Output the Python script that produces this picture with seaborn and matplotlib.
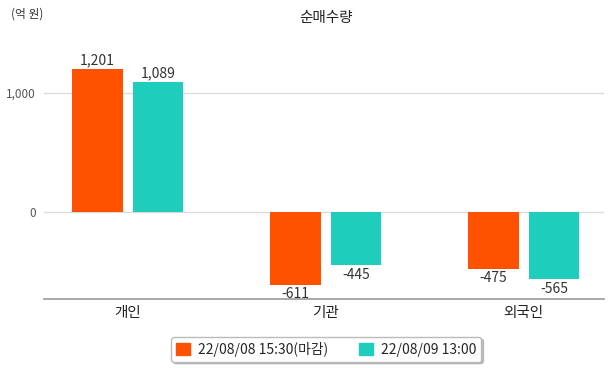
import matplotlib
matplotlib.use("Agg")
import matplotlib.pyplot as plt
import pandas as pd
import seaborn as sns

# values (억 원)
categories = ["개인", "기관", "외국인"]
series_names = ["22/08/08 15:30(마감)", "22/08/09 13:00"]
close_values = [1201, -611, -475]
midday_values = [1089, -445, -565]
colors = ["#FF5200", "#1FCDBD"]

sns.set_theme(style="white")
plt.rcParams["font.family"] = ["Noto Sans CJK KR", "DejaVu Sans"]

df = pd.DataFrame({
    "category": categories * 2,
    "series": [series_names[0]] * 3 + [series_names[1]] * 3,
    "value": close_values + midday_values,
})

fig = plt.figure(figsize=(6.11, 3.68), dpi=100)
ax = fig.add_axes([0.072, 0.1875, 0.9165, 0.7215])

sns.barplot(data=df, x="category", y="value", hue="series", order=categories,
            hue_order=series_names, palette=colors, width=0.612, gap=0.17,
            saturation=1, linewidth=0, ax=ax, legend=False)

ax.set_xlim(-0.423, 2.405)
ax.set_ylim(-731, 1500)
ax.set_yticks([0, 1000])
ax.set_yticklabels(["0", "1,000"], fontsize=8.5, color="#555555")
ax.yaxis.grid(True, color="#D9D9D9", linewidth=0.9)
ax.set_axisbelow(True)
ax.tick_params(axis="y", length=0, pad=6)
ax.tick_params(axis="x", length=0, labelsize=10.5, colors="#222222", pad=5)
ax.set_xlabel("")
ax.set_ylabel("")
for side in ["left", "right", "top"]:
    ax.spines[side].set_visible(False)
ax.spines["bottom"].set_color("#999999")
ax.spines["bottom"].set_linewidth(1.2)

for container in ax.containers:
    for bar in container:
        v = bar.get_height()
        xc = bar.get_x() + bar.get_width() / 2
        if v >= 0:
            ax.annotate(f"{v:,.0f}", (xc, v), xytext=(0, 1.5), textcoords="offset points",
                        ha="center", va="bottom", fontsize=10, color="#333333")
        else:
            ax.annotate(f"{v:,.0f}", (xc, v), xytext=(0, -2), textcoords="offset points",
                        ha="center", va="top", fontsize=10, color="#333333")

fig.text(0.533, 0.95, "순매수량", ha="center", va="center", fontsize=10.5, color="#222222")
fig.text(0.018, 0.963, "(억 원)", ha="left", va="center", fontsize=8.5, color="#333333")

handles = [plt.Rectangle((0, 0), 1, 1, color=c) for c in colors]
leg = fig.legend(handles, series_names, loc="center", bbox_to_anchor=(0.534, 0.051),
                 ncol=2, fontsize=10, frameon=True, fancybox=True,
                 shadow={"ox": 1.5, "oy": -1.5, "color": "#999999", "alpha": 0.6},
                 handlelength=1.0, handleheight=1.0, columnspacing=2.2,
                 borderpad=0.35, handletextpad=0.6)
leg.get_frame().set_edgecolor("#BBBBBB")

fig.savefig("out.png", dpi=100)
